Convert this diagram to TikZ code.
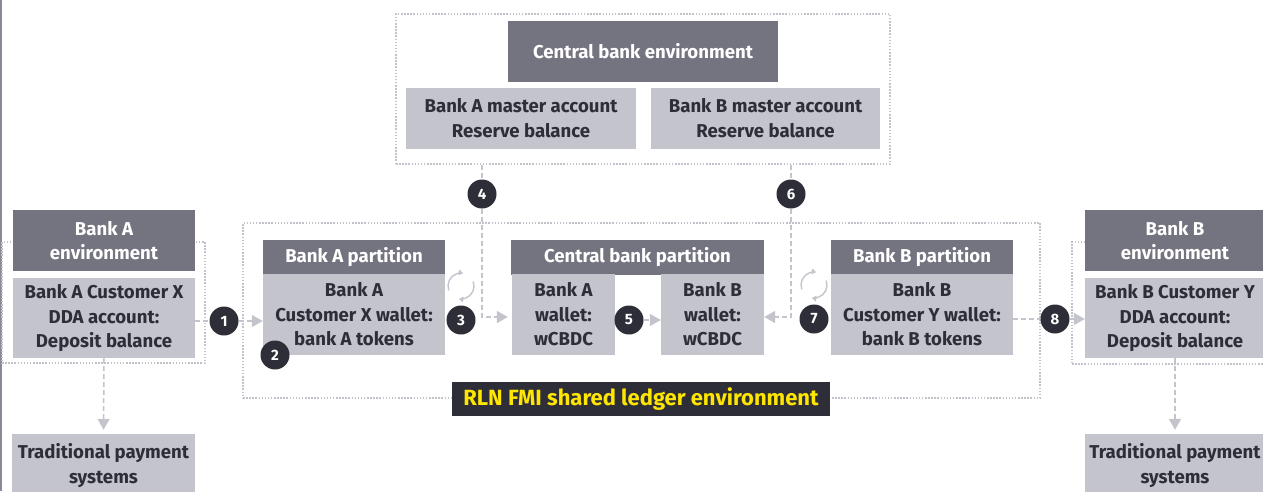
\documentclass[tikz,border=0pt]{standalone}
\usepackage{fontspec}
\setmainfont{Fira Sans}
\usetikzlibrary{arrows.meta}
\definecolor{hdr}{HTML}{747480}
\definecolor{bodyc}{HTML}{C4C4CD}
\definecolor{ink}{HTML}{2E2E38}
\definecolor{eyy}{HTML}{FFE600}
\definecolor{dotc}{HTML}{C2C2CB}
\definecolor{edgec}{HTML}{8A8A96}
\tikzset{
  txt/.style={font=\fontsize{18.6}{24.5}\selectfont\bfseries, align=center, inner sep=0pt},
  hdrbox/.style={txt, fill=hdr, text=white},
  bodybox/.style={txt, fill=bodyc, text=ink},
  num/.style={circle, fill=ink, text=white, minimum size=29pt, inner sep=0pt, font=\fontsize{15}{15}\selectfont\bfseries},
  conn/.style={draw=bodyc, line width=1.5pt, dash pattern=on 5pt off 3pt},
  tip/.style={-{Triangle[length=11pt,width=12pt]}},
  env/.style={draw=dotc, line width=1.5pt, dash pattern=on 1.5pt off 1.6pt, inner sep=0pt},
  cyc/.style={draw=bodyc, line width=1.4pt, -{Triangle[length=4.5pt,width=5.5pt]}},
}
\begin{document}
\begin{tikzpicture}[x=1pt,y=-1pt]
\clip (0,0) rectangle (1263,491);
\fill[white] (0,0) rectangle (1263,491);
\fill[edgec] (0,0) rectangle (2,491);

% frames
\node[env, minimum width=494pt, minimum height=150pt] (cbframe) at (643,89) {};
\node[env, minimum width=797pt, minimum height=175pt] (rlnframe) at (641.5,310.5) {};
\node[env, minimum width=203pt, minimum height=121pt] (aframe) at (103.5,302.5) {};
\node[env, minimum width=203pt, minimum height=122pt] (bframe) at (1173.5,303) {};

% central bank environment
\node[hdrbox, minimum width=270pt, minimum height=61pt] (cbenv) at (643,51.5) {Central bank environment};
\node[bodybox, minimum width=230pt, minimum height=61pt] (amaster) at (521,118) {Bank A master account\\Reserve balance};
\node[bodybox, minimum width=229pt, minimum height=61pt] (bmaster) at (765.5,118) {Bank B master account\\Reserve balance};

% partitions
\node[hdrbox, minimum width=182pt, minimum height=35pt] (aparth) at (354,257) {Bank A partition};
\node[bodybox, minimum width=182pt, minimum height=81pt] (apart) at (354,314.5) {Bank A\\Customer X wallet:\\bank A tokens};
\node[hdrbox, minimum width=253pt, minimum height=35pt] (cbparth) at (637.5,257) {Central bank partition};
\node[bodybox, minimum width=103pt, minimum height=81pt] (awallet) at (563.5,314.5) {Bank A\\wallet:\\wCBDC};
\node[bodybox, minimum width=103pt, minimum height=81pt] (bwallet) at (712.5,314.5) {Bank B\\wallet:\\wCBDC};
\node[hdrbox, minimum width=182pt, minimum height=35pt] (bparth) at (922,257) {Bank B partition};
\node[bodybox, minimum width=182pt, minimum height=81pt] (bpart) at (922,314.5) {Bank B\\Customer Y wallet:\\bank B tokens};

% bank environments
\node[hdrbox, minimum width=182pt, minimum height=61pt] (aenvh) at (104,240.5) {Bank A\\environment};
\node[bodybox, minimum width=182pt, minimum height=80pt] (aenv) at (104,318) {Bank A Customer X\\DDA account:\\Deposit balance};
\node[hdrbox, minimum width=180pt, minimum height=61pt] (benvh) at (1175,240.5) {Bank B\\environment};
\node[bodybox, minimum width=180pt, minimum height=80pt] (benv) at (1175,318) {Bank B Customer Y\\DDA account:\\Deposit balance};
\node[bodybox, minimum width=183pt, minimum height=63pt] (trada) at (103.5,465.5) {Traditional payment\\systems};
\node[bodybox, minimum width=180pt, minimum height=63pt] (tradb) at (1175,465.5) {Traditional payment\\systems};

% label
\node[txt, font=\fontsize{22}{24}\selectfont\bfseries, fill=ink, text=eyy, minimum width=378pt, minimum height=34pt] (rln) at (641,399) {RLN FMI shared ledger environment};

% numbered circles
\node[num] (c1) at (224,321) {1};
\node[num] (c2) at (275,355) {2};
\node[num] (c3) at (461,320) {3};
\node[num] (c4) at (482,194) {4};
\node[num] (c5) at (629,320) {5};
\node[num] (c6) at (791,194) {6};
\node[num] (c7) at (814,319) {7};
\node[num] (c8) at (1055,319) {8};

% connectors
\draw[conn] (aenv.east |- c1) -- (c1);
\draw[conn, tip] (c1) -- (apart.west |- c1);
\draw[conn] (cbframe.south -| c4) -- (c4);
\draw[conn, tip, shorten >=4pt] (c4) |- (awallet.west |- 0,317);
\draw[conn] (cbframe.south -| c6) -- (c6);
\draw[conn, tip] (c6) |- (bwallet.east |- 0,317);
\draw[conn, tip] (c5) -- (bwallet.west |- c5);
\draw[conn] (bpart.east |- c8) -- (c8);
\draw[conn, tip] (c8) -- (benv.west |- c8);
\draw[conn, tip, shorten >=4pt] (aenv.south) -- (trada.north);
\draw[conn, tip, shorten >=4pt] (benv.south -| tradb.north) -- (tradb.north);

% cycle icons
\coordinate (cy3) at (461,286);
\coordinate (cy7) at (814,285);
\foreach \c in {cy3,cy7}{
  \draw[cyc] (\c) ++(-200:13) arc[start angle=-200, end angle=-80, radius=13];
  \draw[cyc] (\c) ++(-20:13) arc[start angle=-20, end angle=100, radius=13];
}
\end{tikzpicture}
\end{document}
